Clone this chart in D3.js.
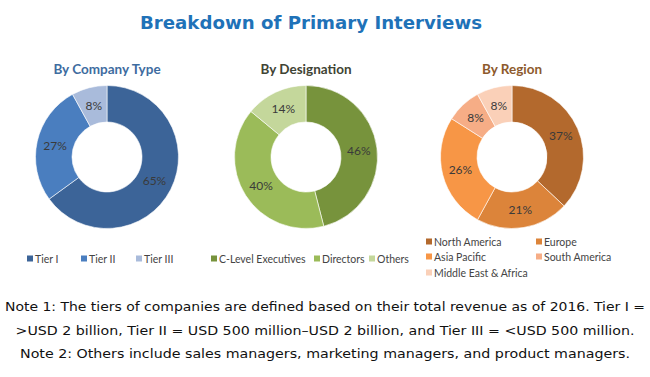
<!DOCTYPE html>
<html>
<head>
<meta charset="utf-8">
<script src="https://cdn.jsdelivr.net/npm/d3@7"></script>
<style>
  body { margin: 0; background: #ffffff; }
  svg { display: block; }
</style>
</head>
<body>
<div id="container"></div>
<script>
let w = 650;
let h = 377;

// DATA
let companyLabels = ["Tier I", "Tier II", "Tier III"];
let companyValues = [65, 27, 8];
let companyColors = ["#3c6498", "#4a7ebf", "#a9bbdb"];

let designationLabels = ["C-Level Executives", "Directors", "Others"];
let designationValues = [46, 40, 14];
let designationColors = ["#77933c", "#9bbb59", "#c4d79b"];

let regionLabels = ["North America", "Europe", "Asia Pacific", "South America", "Middle East & Africa"];
let regionValues = [37, 21, 26, 8, 8];
let regionColors = ["#b3692d", "#dc843a", "#f79646", "#f6ad86", "#fad0b8"];

let noteLines = [
  "Note 1: The tiers of companies are defined based on their total revenue as of 2016. Tier I =",
  ">USD 2 billion, Tier II = USD 500 million\u2013USD 2 billion, and Tier III = <USD 500 million.",
  "Note 2: Others include sales managers, marketing managers, and product managers."
];

let viz = d3.select("#container").append("svg")
    .attr("width", w)
    .attr("height", h)
    .style("background-color", "#ffffff");

// title
viz.append("text")
    .attr("x", 311).attr("y", 29)
    .attr("text-anchor", "middle")
    .style("font-family", "DejaVu Sans")
    .style("font-weight", "bold")
    .style("font-size", "18px")
    .style("fill", "#1f72b8")
    .attr("textLength", 342)
    .attr("lengthAdjust", "spacingAndGlyphs")
    .text("Breakdown of Primary Interviews");

let charts = [
  {title: "By Company Type", titleColor: "#3e6c9f", cx: 107, labels: companyLabels, values: companyValues, colors: companyColors},
  {title: "By Designation", titleColor: "#3f4434", cx: 306, labels: designationLabels, values: designationValues, colors: designationColors},
  {title: "By Region", titleColor: "#8d5a2c", cx: 512, labels: regionLabels, values: regionValues, colors: regionColors}
];

let cy = 157;
let outerR = 71.5;
let innerR = 35;

let pie = d3.pie().sort(null).value(d => d);
let arcMaker = d3.arc().innerRadius(innerR).outerRadius(outerR);
let labelArc = d3.arc().innerRadius((innerR + outerR) / 2).outerRadius((innerR + outerR) / 2);

charts.forEach(c => {
  let g = viz.append("g").attr("transform", "translate(" + c.cx + "," + cy + ")");

  viz.append("text")
      .attr("x", c.cx).attr("y", 74)
      .attr("text-anchor", "middle")
      .style("font-family", "Lato")
      .style("font-weight", "bold")
      .style("font-size", "13.5px")
      .style("fill", c.titleColor)
      .text(c.title);

  let arcs = pie(c.values);
  g.selectAll(".slice").data(arcs).enter()
      .append("path")
      .attr("class", "slice")
      .attr("d", arcMaker)
      .attr("fill", (d, i) => c.colors[i])
      .attr("stroke", "#ffffff")
      .attr("stroke-width", 0.6);

  g.selectAll(".lbl").data(arcs).enter()
      .append("text")
      .attr("class", "lbl")
      .attr("transform", d => "translate(" + labelArc.centroid(d) + ")")
      .attr("text-anchor", "middle")
      .attr("dy", "0.35em")
      .style("font-family", "Lato")
      .style("font-size", "12px")
      .style("fill", "#3a3a3a")
      .text(d => d.data + "%");
});

// legends
function legendItem(x, y, color, label) {
  viz.append("rect")
      .attr("x", x).attr("y", y - 3.5)
      .attr("width", 6).attr("height", 6)
      .attr("fill", color);
  viz.append("text")
      .attr("x", x + 8).attr("y", y)
      .attr("dy", "0.35em")
      .style("font-family", "Lato")
      .style("font-size", "10.5px")
      .style("fill", "#444444")
      .text(label);
}

let companyLegendX = [27, 81, 136];
companyLabels.forEach((l, i) => legendItem(companyLegendX[i], 259, companyColors[i], l));

let designationLegendX = [211, 314, 369];
designationLabels.forEach((l, i) => legendItem(designationLegendX[i], 259, designationColors[i], l));

let regionLegendPos = [[426, 242], [536, 242], [426, 257], [536, 257], [426, 273]];
regionLabels.forEach((l, i) => legendItem(regionLegendPos[i][0], regionLegendPos[i][1], regionColors[i], l));

// notes
let noteY = [311, 335, 358];
let noteLen = [640, 619, 610];
noteLines.forEach((t, i) => {
  viz.append("text")
      .attr("x", 325).attr("y", noteY[i])
      .attr("text-anchor", "middle")
      .style("font-family", "DejaVu Sans")
      .style("font-size", "12px")
      .style("fill", "#111111")
      .attr("textLength", noteLen[i])
      .attr("lengthAdjust", "spacingAndGlyphs")
      .text(t);
});
</script>
</body>
</html>
